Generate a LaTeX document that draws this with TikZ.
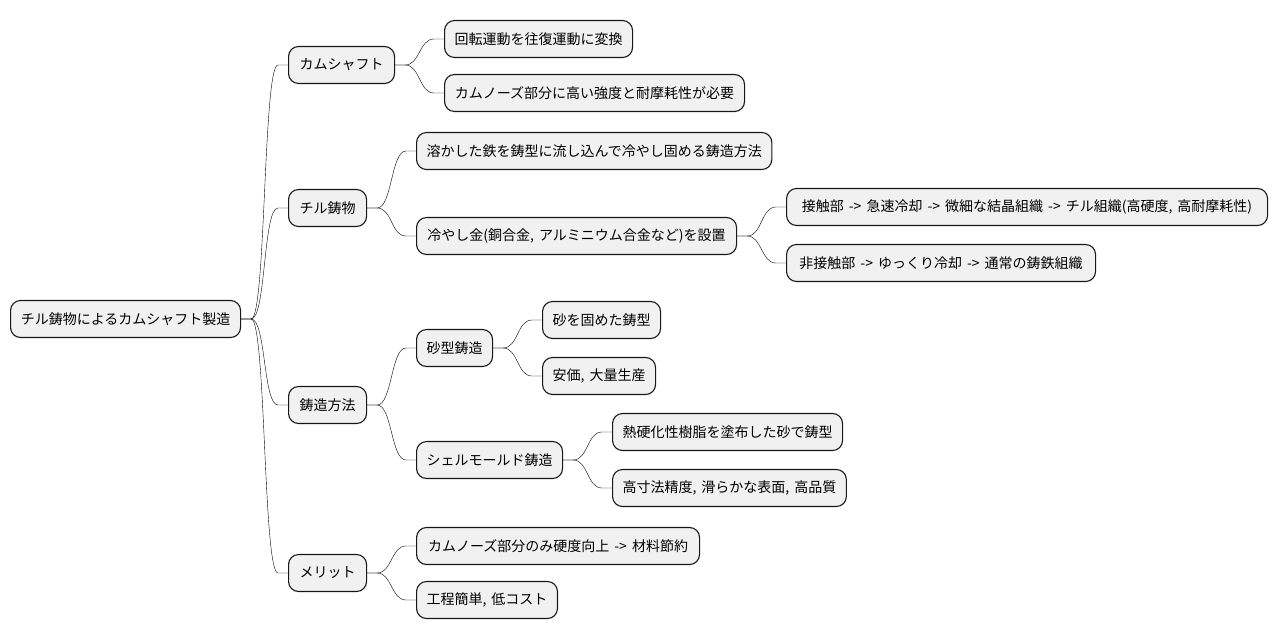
\documentclass[tikz,border=0pt]{standalone}
\usepackage{fontspec}
\setmainfont[WordSpace=1.6]{Noto Sans CJK JP}
\definecolor{boxfill}{HTML}{F1F1F1}
\definecolor{boxline}{HTML}{181818}

\tikzset{
  topic/.style={draw=boxline, fill=boxfill, rounded corners=10pt, line width=1.1pt,
    minimum height=37pt, inner xsep=10pt, anchor=west, font=\fontsize{14pt}{16pt}\selectfont},
  branch/.style={draw=boxline, line width=0.8pt,
    to path={(\tikztostart.east) -- ++(10pt,0) .. controls +(15pt,0) and +(-15pt,0) ..
      ([xshift=-10pt]\tikztotarget.west) -- (\tikztotarget.west)}}
}

\begin{document}
\begin{tikzpicture}[x=1pt,y=-1pt]
\useasboundingbox[fill=white] (0,0) rectangle (1277,640);

% root
\node[topic, minimum width=230pt] (root) at (10,319) {チル鋳物によるカムシャフト製造};

% first level
\node[topic, minimum width=106pt] (cam) at (288,65) {カムシャフト};
\node[topic, minimum width=78pt] (chill) at (288,208) {チル鋳物};
\node[topic, minimum width=78pt] (cast) at (288,405) {鋳造方法};
\node[topic, minimum width=78pt] (merit) at (288,573) {メリット};

% camshaft
\node[topic, minimum width=188pt] (rot) at (444,39) {回転運動を往復運動に変換};
\node[topic, minimum width=300pt] (nose) at (444,93) {カムノーズ部分に高い強度と耐摩耗性が必要};

% chill casting
\node[topic, minimum width=354pt] (melt) at (416,151) {溶かした鉄を鋳型に流し込んで冷やし固める鋳造方法};
\node[topic, minimum width=320pt] (chiller) at (416,236) {冷やし金(銅合金, アルミニウム合金など)を設置};
\node[topic, minimum width=481pt] (contact) at (786,207) {接触部 -> 急速冷却 -> 微細な結晶組織 -> チル組織(高硬度, 高耐摩耗性)};
\node[topic, minimum width=309pt] (noncontact) at (786,263) {非接触部 -> ゆっくり冷却 -> 通常の鋳鉄組織};

% casting methods
\node[topic, minimum width=76pt] (sand) at (416,348) {砂型鋳造};
\node[topic, minimum width=118pt] (sandmold) at (542,320) {砂を固めた鋳型};
\node[topic, minimum width=113pt] (cheap) at (542,376) {安価, 大量生産};
\node[topic, minimum width=146pt] (shell) at (416,460) {シェルモールド鋳造};
\node[topic, minimum width=230pt] (resin) at (612,432) {熱硬化性樹脂を塗布した砂で鋳型};
\node[topic, minimum width=233pt] (precise) at (612,488) {高寸法精度, 滑らかな表面, 高品質};

% merits
\node[topic, minimum width=283pt] (nosehard) at (416,546) {カムノーズ部分のみ硬度向上 -> 材料節約};
\node[topic, minimum width=140pt] (simple) at (416,600) {工程簡単, 低コスト};

\foreach \a/\b in {root/cam, root/chill, root/cast, root/merit,
    cam/rot, cam/nose, chill/melt, chill/chiller,
    chiller/contact, chiller/noncontact,
    cast/sand, cast/shell, sand/sandmold, sand/cheap,
    shell/resin, shell/precise, merit/nosehard, merit/simple}
  \draw (\a) to[branch] (\b);
\end{tikzpicture}
\end{document}
